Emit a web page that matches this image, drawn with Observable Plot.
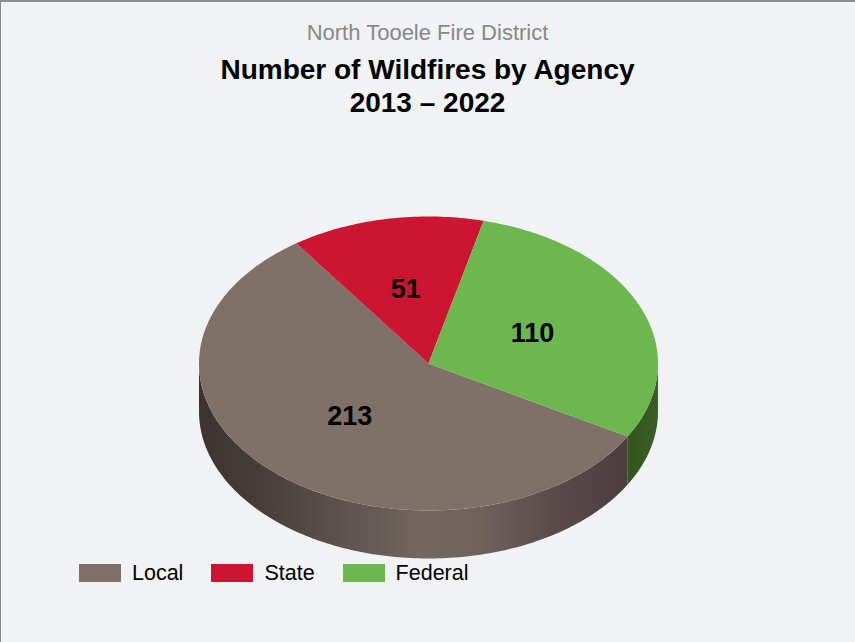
<!DOCTYPE html>
<html>
<head>
<meta charset="utf-8">
<script src="https://cdn.jsdelivr.net/npm/d3@7"></script>
<script src="https://cdn.jsdelivr.net/npm/@observablehq/plot@0.6"></script>
<style>
  html, body { margin: 0; padding: 0; }
  body { width: 855px; height: 642px; overflow: hidden; background: #f1f2f4; font-family: "Liberation Sans", Arial, sans-serif; }
  #frame { position: relative; width: 855px; height: 642px; box-sizing: border-box; border-top: 2px solid #8c8c8c; border-left: 1px solid #8c8c8c; margin: 0; }
  header { height: 123px; margin-left: -1px; text-align: center; box-sizing: border-box; padding-top: 18px; }
  .sub { font-size: 22px; line-height: 25px; color: #888888; }
  h1 { margin: 8px 0 0 0; font-size: 28px; line-height: 33px; font-weight: bold; color: #000; }
  #chart { margin-left: -1px; height: 435px; }
  #chart svg { display: block; }
  #legend { display: flex; align-items: center; margin: 3px 0 0 78px; height: 20px; font-size: 21.5px; color: #000; }
  #legend .sw { width: 42px; height: 18px; margin-right: 11px; }
  #legend .lb { margin-right: 28px; }
</style>
</head>
<body>
<div id="frame">
  <header>
    <div class="sub">North Tooele Fire District</div>
    <h1>Number of Wildfires by Agency<br>2013 – 2022</h1>
  </header>
  <div id="chart"></div>
  <div id="legend"></div>
</div>
<script>
const agencies = ["Local", "State", "Federal"];
const counts = [213, 51, 110];
const topColors = ["#7f7068", "#cc1530", "#6cb84f"];
const startDegrees = 119.8;

const total = d3.sum(counts);
const rad = Math.PI / 180;
const depth = 48 / 147;

// Slices run clockwise from the start angle
let cursor = startDegrees;
const slices = agencies.map((name, i) => {
  const start = cursor;
  const end = cursor + counts[i] / total * 360;
  cursor = end;
  return {name, value: counts[i], start, end, mid: (start + end) / 2};
});

const arcPoints = (a0, a1, dy = 0) => {
  const n = Math.max(2, Math.ceil(Math.abs(a1 - a0)));
  return d3.range(n + 1).map(k => {
    const a = (a0 + (a1 - a0) * k / n) * rad;
    return {x: Math.sin(a), y: Math.cos(a) - dy};
  });
};

// Top faces
const faces = slices.flatMap(s =>
  [{x: 0, y: 0}, ...arcPoints(s.start, s.end), {x: 0, y: 0}].map(p => ({...p, name: s.name}))
);

// Visible rim: angles between 90 and 270 face the viewer
const rim = slices.flatMap(s => {
  const ranges = [[s.start, s.end], [s.start - 360, s.end - 360]]
    .map(([a, b]) => [Math.max(a, 90), Math.min(b, 270)])
    .filter(([a, b]) => b > a);
  return ranges.flatMap(([a, b], j) =>
    [...arcPoints(a, b), ...arcPoints(b, a, depth)].map(p => ({...p, name: s.name, part: s.name + j}))
  );
});

const rimFill = {Local: "url(#rim-local)", State: "url(#rim-state)", Federal: "url(#rim-federal)"};

const gradient = (id, stops) => {
  const g = d3.create("svg:linearGradient").attr("id", id).attr("x1", 0).attr("x2", 1).attr("y1", 0).attr("y2", 0);
  stops.forEach(([o, c]) => g.append("stop").attr("offset", o).attr("stop-color", c));
  return g;
};
const defs = () => {
  const d = d3.create("svg:defs");
  d.append(() => gradient("rim-local", [[0, "#3c3430"], [0.12, "#453c37"], [0.3, "#5a4f49"], [0.52, "#736760"], [0.66, "#6f625b"], [0.82, "#5a4c4b"], [1, "#4b3d3e"]]).node());
  d.append(() => gradient("rim-state", [[0, "#7a1020"], [1, "#7a1020"]]).node());
  d.append(() => gradient("rim-federal", [[0, "#33551f"], [1, "#3a5f24"]]).node());
  return d.node();
};

const cx = 428, rx = 229.5, cy = 363 - 123 - 2, ry = 147;

const plot = Plot.plot({
  width: 855,
  height: 435,
  margin: 0,
  style: {background: "transparent", fontFamily: "'Liberation Sans', Arial, sans-serif"},
  x: {domain: [-1, 1], range: [cx - rx, cx + rx], axis: null},
  y: {domain: [-1, 1], range: [cy + ry, cy - ry], axis: null},
  color: {domain: agencies, range: topColors},
  marks: [
    defs,
    Plot.line(rim, {x: "x", y: "y", z: "part", fill: {value: d => rimFill[d.name], scale: null}, stroke: "none"}),
    Plot.line(faces, {x: "x", y: "y", z: "name", fill: "name", stroke: "none"}),
    Plot.text(slices, {
      x: d => 0.5 * Math.sin(d.mid * rad),
      y: d => 0.5 * Math.cos(d.mid * rad),
      text: d => String(d.value),
      fontSize: 27,
      fontWeight: "bold",
      fill: "#000",
      textAnchor: "middle",
      lineAnchor: "middle",
      dx: -1.5,
      dy: -1.5
    })
  ]
});
document.getElementById("chart").append(plot);

const legend = d3.select("#legend");
agencies.forEach((name, i) => {
  legend.append("span").attr("class", "sw").style("background", topColors[i]);
  legend.append("span").attr("class", "lb").text(name);
});
</script>
</body>
</html>
